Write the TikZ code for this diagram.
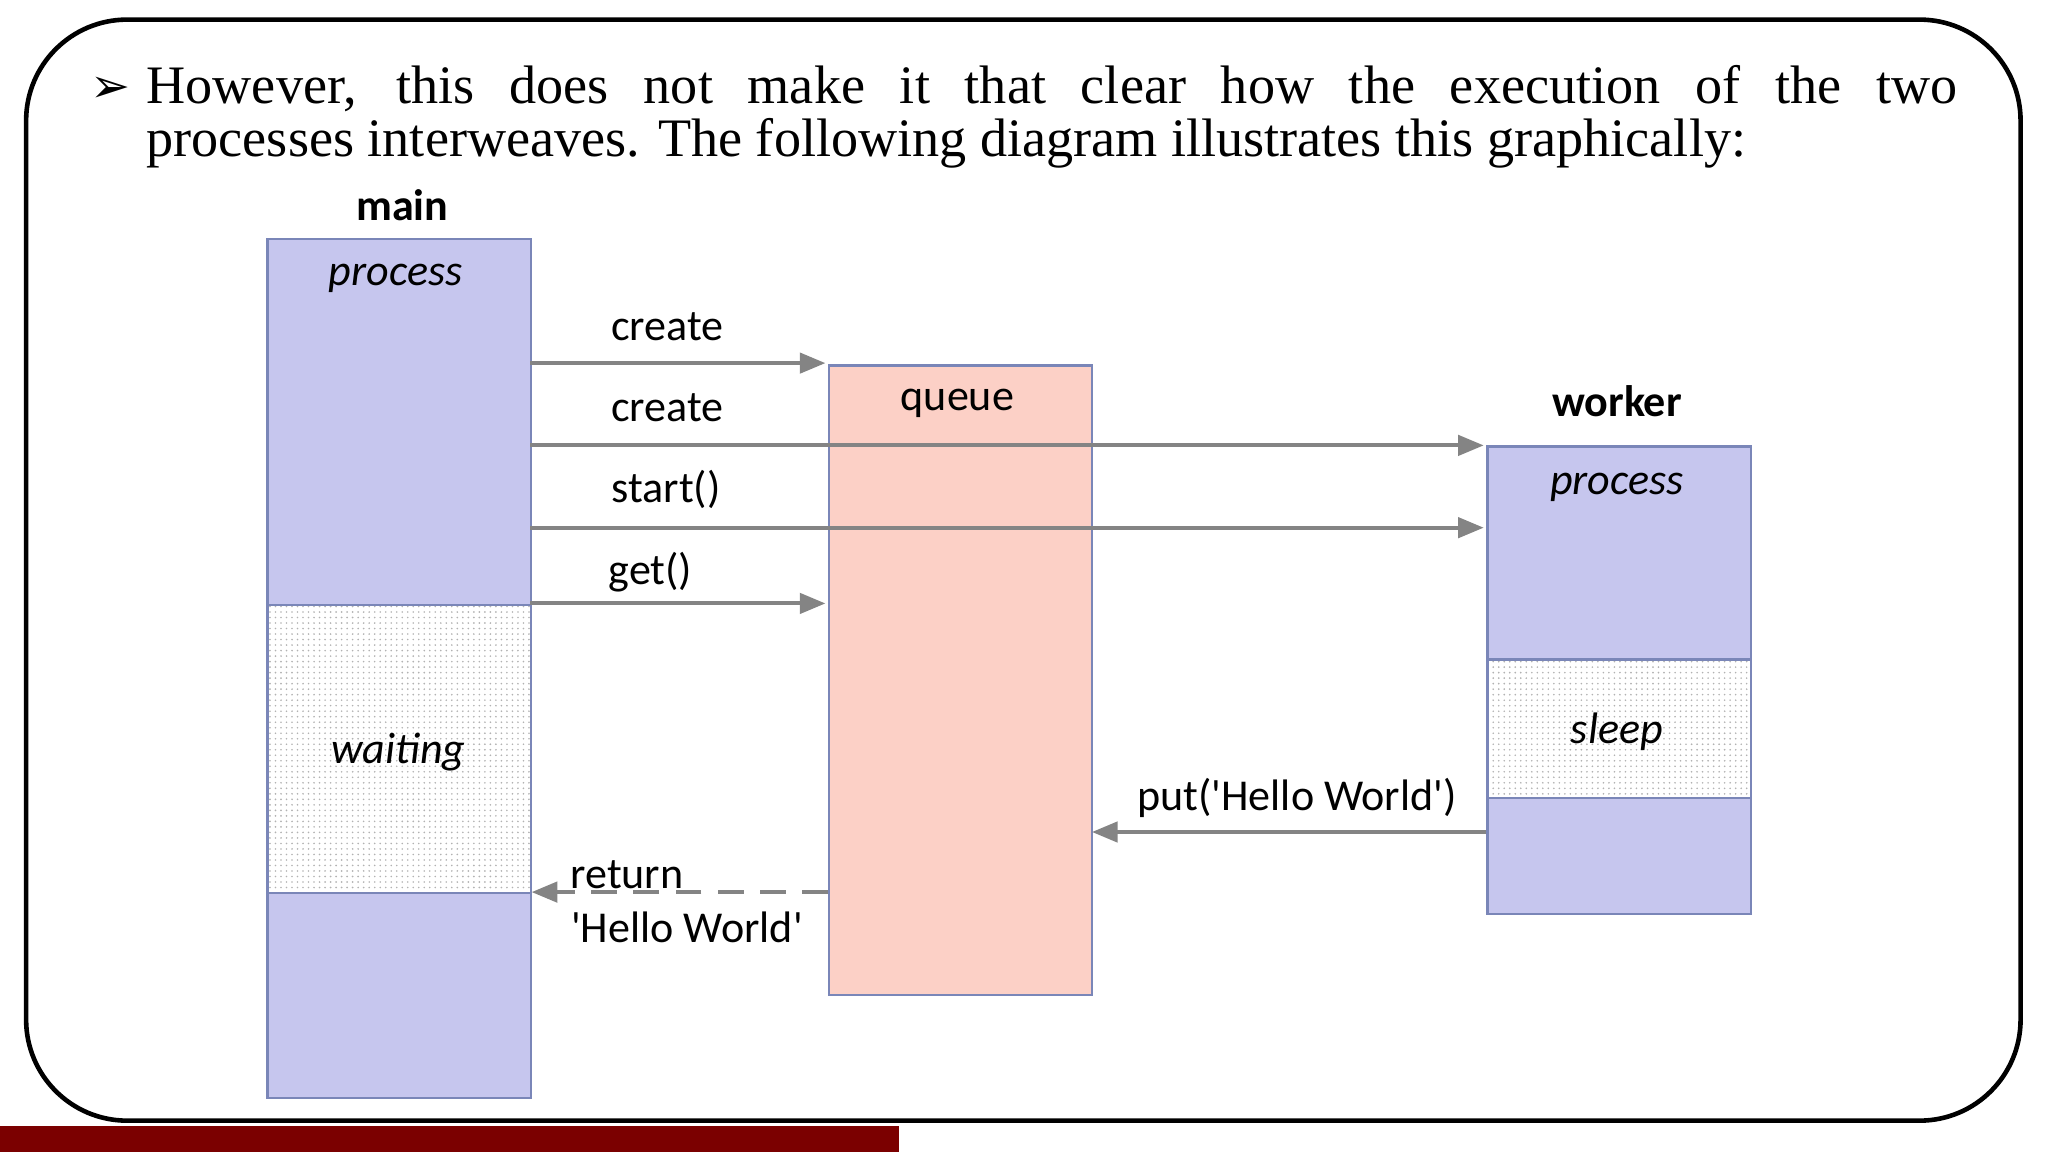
\documentclass[tikz,border=0pt]{standalone}
\usepackage{fontspec}
\setmainfont{Liberation Serif}
\newfontfamily\diagfont{Carlito}
\newfontfamily\symfont{DejaVu Sans}
\usetikzlibrary{patterns,arrows.meta}
\definecolor{lav}{HTML}{C6C6EE}
\definecolor{salmon}{HTML}{FCD0C6}
\definecolor{edge}{HTML}{7A86B8}
\definecolor{darkred}{HTML}{7B0000}
\definecolor{arrowgray}{HTML}{848484}
\begin{document}
\begin{tikzpicture}[x=0.025cm,y=-0.025cm,
  lbl/.style={font=\diagfont\fontsize{24}{26}\selectfont},
  ilbl/.style={font=\diagfont\itshape\fontsize{24}{26}\selectfont},
  blbl/.style={font=\diagfont\bfseries\fontsize{24}{26}\selectfont},
  part/.style={draw=edge,line width=1.2pt},
  msg/.style={arrowgray,line width=2.2pt,-{Triangle[length=14pt,width=11pt]}}]
\useasboundingbox (0,0) rectangle (1568,882);
% frame and bottom bar
\draw[line width=2.5pt,rounded corners=55] (20,15) rectangle (1547,858);
\fill[darkred] (0,862) rectangle (688,882);
% slide text
\node[anchor=west,font=\symfont\fontsize{26}{28}\selectfont] (bullet) at (64,69) {➢};
\node[anchor=north west,inner sep=0,text width=34.65cm,align=justify,
  font=\fontsize{29.5}{28.5}\selectfont] (txt) at (112,50)
  {However, this does not make it that clear how the execution of the two\linebreak processes interweaves. The following diagram illustrates this graphically:};
% main process
\fill[lav] (204,182) rectangle (406,463);
\fill[pattern=dots,pattern color=gray!60] (204,463) rectangle (406,684);
\fill[lav] (204,684) rectangle (406,840);
\draw[part] (204,463) -- (406,463) (204,684) -- (406,684);
\node[part,anchor=north west,minimum width=202*0.025cm,minimum height=658*0.025cm] (mainbox) at (204,182) {};
\node[blbl] (mainlbl) at (308,157) {main};
\node[ilbl] (mainproc) at (303,213) {process};
\node[ilbl] (mainwait) at (305,576) {waiting};
% queue
\node[part,fill=salmon,anchor=north west,minimum width=201*0.025cm,minimum height=482*0.025cm] (queue) at (634,279) {};
\node[lbl] (queuelbl) at (733,309) {queue};
% worker process
\fill[lav] (1138,341) rectangle (1340,505);
\fill[pattern=dots,pattern color=gray!60] (1138,505) rectangle (1340,611);
\fill[lav] (1138,611) rectangle (1340,699);
\draw[part] (1138,505) -- (1340,505) (1138,611) -- (1340,611);
\node[part,anchor=north west,minimum width=202*0.025cm,minimum height=358*0.025cm] (worker) at (1138,341) {};
\node[blbl] (workerlbl) at (1238,307) {worker};
\node[ilbl] (workproc) at (1238,373) {process};
\node[ilbl] (worksleep) at (1238,560) {sleep};
% messages
\coordinate (m1) at (406,278); \coordinate (q1) at (632,278);
\coordinate (m2) at (406,341); \coordinate (w2) at (1136,341);
\coordinate (m3) at (406,404); \coordinate (w3) at (1136,404);
\coordinate (m4) at (406,462); \coordinate (q4) at (632,462);
\coordinate (w5) at (1138,637); \coordinate (q5) at (836,637);
\coordinate (q6) at (634,683); \coordinate (m6) at (407,683);
\draw[msg] (m1) -- (q1);
\draw[msg] (m2) -- (w2);
\draw[msg] (m3) -- (w3);
\draw[msg] (m4) -- (q4);
\draw[msg] (w5) -- (q5);
\draw[msg,dash pattern=on 14pt off 9pt] (q6) -- (m6);
\node[lbl] (l1) at (511,250) {create};
\node[lbl] (l2) at (511,312) {create};
\node[lbl] (l3) at (510,375) {start()};
\node[lbl] (l4) at (498,438) {get()};
\node[lbl] (l5) at (993,611) {put('Hello World')};
\node[lbl] (l6) at (480,670) {return};
\node[lbl] (l7) at (526,710) {'Hello World'};
\end{tikzpicture}
\end{document}
